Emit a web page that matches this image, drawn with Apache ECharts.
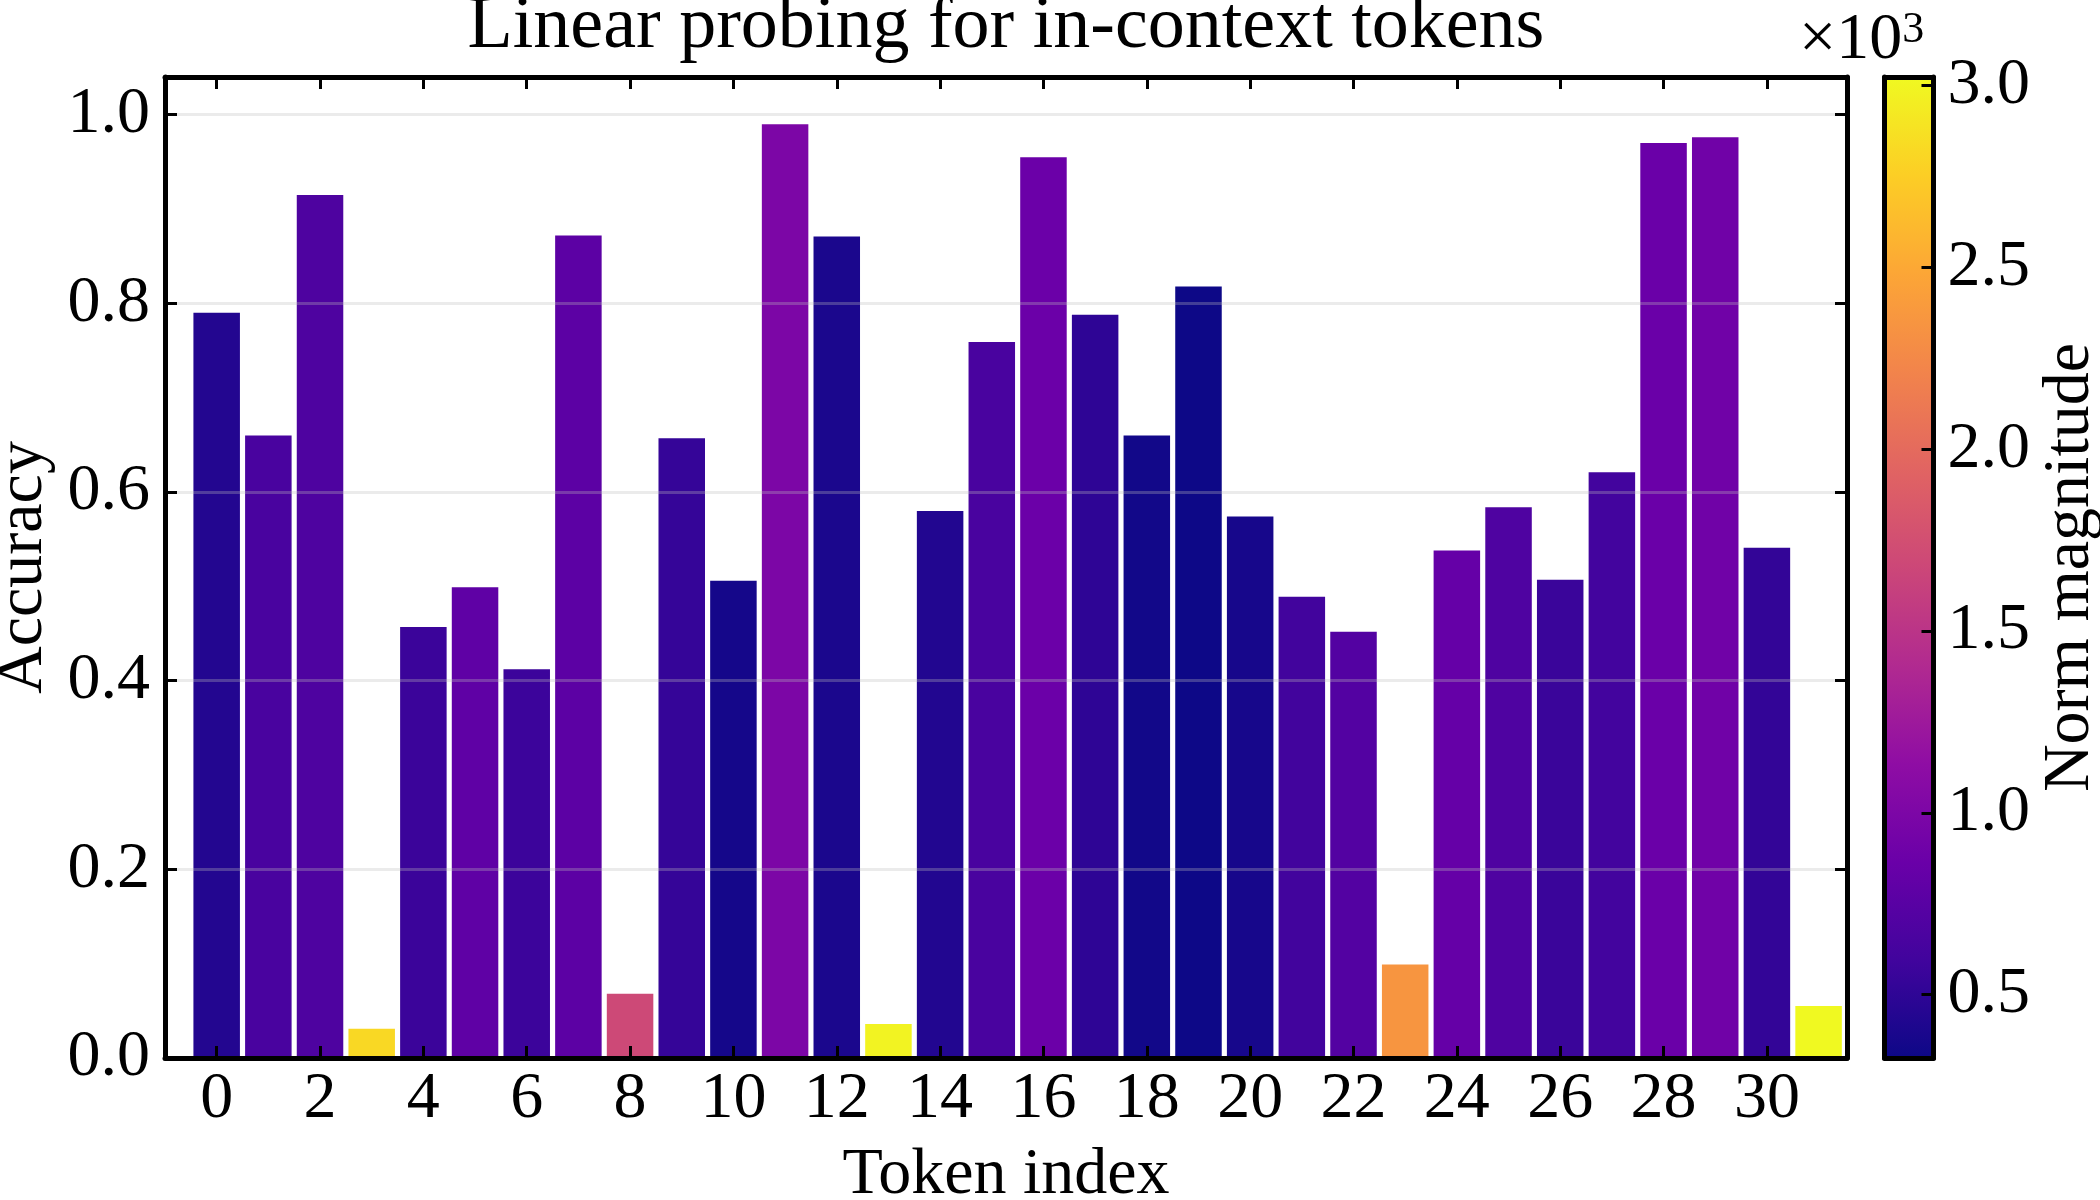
<!DOCTYPE html>
<html>
<head>
<meta charset="utf-8">
<script src="https://cdn.jsdelivr.net/npm/echarts@6/dist/echarts.min.js"></script>
<style>
  html, body { margin: 0; padding: 0; background: #fff; }
  #chart { width: 2100px; height: 1200px; }
</style>
</head>
<body>
<div id="chart"></div>
<script>
// data
const tokenIndex = [0, 1, 2, 3, 4, 5, 6, 7, 8, 9, 10, 11, 12, 13, 14, 15,
                    16, 17, 18, 19, 20, 21, 22, 23, 24, 25, 26, 27, 28, 29, 30, 31];
const accuracy = [0.790, 0.660, 0.915, 0.031, 0.457, 0.499, 0.412, 0.872,
                  0.068, 0.657, 0.506, 0.990, 0.871, 0.036, 0.580, 0.759,
                  0.955, 0.788, 0.660, 0.818, 0.574, 0.489, 0.452, 0.099,
                  0.538, 0.584, 0.507, 0.621, 0.970, 0.976, 0.541, 0.055];
const normMagnitude = [440, 650, 680, 2816, 564, 793, 570, 774,
                       1690, 534, 367, 1000, 399, 2985, 434, 650,
                       870, 497, 353, 326, 378, 601, 715, 2350,
                       833, 688, 560, 610, 866, 906, 523, 3024];
const xTicks = [0, 2, 4, 6, 8, 10, 12, 14, 16, 18, 20, 22, 24, 26, 28, 30];
const yTicks = [0.0, 0.2, 0.4, 0.6, 0.8, 1.0];
const cbTicks = [0.5, 1.0, 1.5, 2.0, 2.5, 3.0];

// plasma colormap
const plasma = ['#0d0887', '#41049d', '#6a00a8', '#8f0da4', '#b12a90', '#cc4778',
                '#e16462', '#f2844b', '#fca636', '#fcce25', '#f0f921'];

const FONT = 'Liberation Serif';
const xMin = -1, xMax = 31.55, yMax = 1.04;
const cbMin = 0.326, cbMax = 3.024;   // in units of 10^3
const mainGrid = { left: 165, top: 77, width: 1682, height: 981 };
const cbGrid = { left: 1884.5, top: 77, width: 49, height: 981 };
// bars sit in their own grid whose category bands line up with the frame's value axis
const unit = mainGrid.width / (xMax - xMin);
const barGrid = {
    left: mainGrid.left + (tokenIndex[0] - 0.5 - xMin) * unit,
    top: mainGrid.top,
    width: tokenIndex.length * unit,
    height: mainGrid.height
};

const labelStyle = { fontFamily: FONT, fontSize: 66, color: '#000' };
const lineBlack = { show: true, onZero: false, lineStyle: { color: '#000', width: 5 } };
const tickIn = { show: true, inside: true, length: 12, lineStyle: { color: '#000', width: 3 } };
const near = (v, list) => list.some(t => Math.abs(t - v) < 1e-6);
const hidden = {
    axisLine: { show: false }, axisTick: { show: false },
    axisLabel: { show: false }, splitLine: { show: false }
};
const fixedGrid = g => Object.assign({ containLabel: false, outerBoundsMode: 'none' }, g);

let myChart = echarts.init(document.getElementById('chart'));

let option = {
    animation: false,
    backgroundColor: '#fff',
    title: [{
        text: 'Linear probing for in-context tokens',
        left: mainGrid.left + mainGrid.width / 2,
        textAlign: 'center',
        top: -9,
        padding: 0,
        textStyle: { fontFamily: FONT, fontSize: 74, fontWeight: 'normal', color: '#000' }
    }, {
        text: '×10{sup|3}',
        left: 1799,
        top: 8,
        padding: 0,
        textStyle: {
            fontFamily: FONT, fontSize: 66, fontWeight: 'normal', color: '#000',
            rich: { sup: { fontFamily: FONT, fontSize: 44, color: '#000', verticalAlign: 'top' } }
        }
    }],
    grid: [fixedGrid(mainGrid), fixedGrid(cbGrid), fixedGrid(barGrid)],
    visualMap: {
        show: false,
        type: 'continuous',
        seriesIndex: 0,
        dimension: 2,
        min: cbMin * 1000,
        max: cbMax * 1000,
        inRange: { color: plasma }
    },
    xAxis: [{
        gridIndex: 0, type: 'value', position: 'bottom', z: 10,
        min: xMin, max: xMax, minInterval: 2, maxInterval: 2, splitNumber: 16,
        axisLine: lineBlack, axisTick: tickIn,
        axisLabel: Object.assign({ margin: 9, formatter: v => near(v, xTicks) ? String(Math.round(v)) : '' }, labelStyle),
        splitLine: { show: false },
        name: 'Token index', nameLocation: 'middle', nameGap: 85,
        nameTextStyle: labelStyle
    }, {
        gridIndex: 0, type: 'value', position: 'top', z: 10,
        min: xMin, max: xMax, minInterval: 2, maxInterval: 2, splitNumber: 16,
        axisLine: lineBlack, axisTick: tickIn,
        axisLabel: { show: false }, splitLine: { show: false }
    }, {
        gridIndex: 1, type: 'value', position: 'bottom', z: 10, min: 0, max: 1,
        axisLine: lineBlack, axisTick: { show: false }, axisLabel: { show: false }, splitLine: { show: false }
    }, {
        gridIndex: 1, type: 'value', position: 'top', z: 10, min: 0, max: 1,
        axisLine: lineBlack, axisTick: { show: false }, axisLabel: { show: false }, splitLine: { show: false }
    }, Object.assign({
        gridIndex: 2, type: 'category', data: tokenIndex.map(String), boundaryGap: true
    }, hidden)],
    yAxis: [{
        gridIndex: 0, type: 'value', position: 'left', z: 10,
        min: 0, max: yMax, interval: 0.2,
        axisLine: lineBlack, axisTick: tickIn,
        axisLabel: Object.assign({ margin: 15, formatter: v => near(v, yTicks) ? v.toFixed(1) : '' }, labelStyle),
        splitLine: { show: true, lineStyle: { color: 'rgba(190,190,190,0.3)', width: 3 } },
        name: 'Accuracy', nameLocation: 'middle', nameRotate: 90, nameGap: 106,
        nameTextStyle: labelStyle
    }, {
        gridIndex: 0, type: 'value', position: 'right', z: 10,
        min: 0, max: yMax, interval: 0.2,
        axisLine: lineBlack, axisTick: tickIn,
        axisLabel: { show: false }, splitLine: { show: false }
    }, {
        gridIndex: 1, type: 'value', position: 'left', z: 10, min: cbMin, max: cbMax,
        axisLine: lineBlack, axisTick: { show: false }, axisLabel: { show: false }, splitLine: { show: false }
    }, {
        gridIndex: 1, type: 'value', position: 'right', z: 10,
        min: cbMin, max: cbMax, minInterval: 0.5, maxInterval: 0.5, splitNumber: 5,
        axisLine: lineBlack, axisTick: tickIn,
        axisLabel: Object.assign({ margin: 14, formatter: v => near(v, cbTicks) ? v.toFixed(1) : '' }, labelStyle),
        splitLine: { show: false },
        name: 'Norm magnitude', nameLocation: 'middle', nameRotate: 90, nameGap: 104,
        nameTextStyle: labelStyle
    }, Object.assign({
        gridIndex: 2, type: 'value', min: 0, max: yMax
    }, hidden)],
    series: [{
        name: 'Accuracy',
        type: 'bar',
        xAxisIndex: 4,
        yAxisIndex: 4,
        barWidth: '90%',
        z: 2,
        dimensions: ['token', 'accuracy', 'norm'],
        encode: { x: 0, y: 1 },
        data: tokenIndex.map((t, i) => [String(t), accuracy[i], normMagnitude[i]])
    }, {
        name: 'Colorbar',
        type: 'custom',
        xAxisIndex: 2,
        yAxisIndex: 3,
        z: 2,
        encode: { x: [0, 2], y: [1, 3] },
        data: [[0, cbMin, 1, cbMax]],
        renderItem: function (params, api) {
            const p0 = api.coord([api.value(0), api.value(1)]);
            const p1 = api.coord([api.value(2), api.value(3)]);
            return {
                type: 'rect',
                shape: { x: p0[0], y: p1[1], width: p1[0] - p0[0], height: p0[1] - p1[1] },
                style: {
                    fill: new echarts.graphic.LinearGradient(0, 1, 0, 0,
                        plasma.map((c, i) => ({ offset: i / (plasma.length - 1), color: c })))
                }
            };
        }
    }]
};

myChart.setOption(option);
</script>
</body>
</html>
